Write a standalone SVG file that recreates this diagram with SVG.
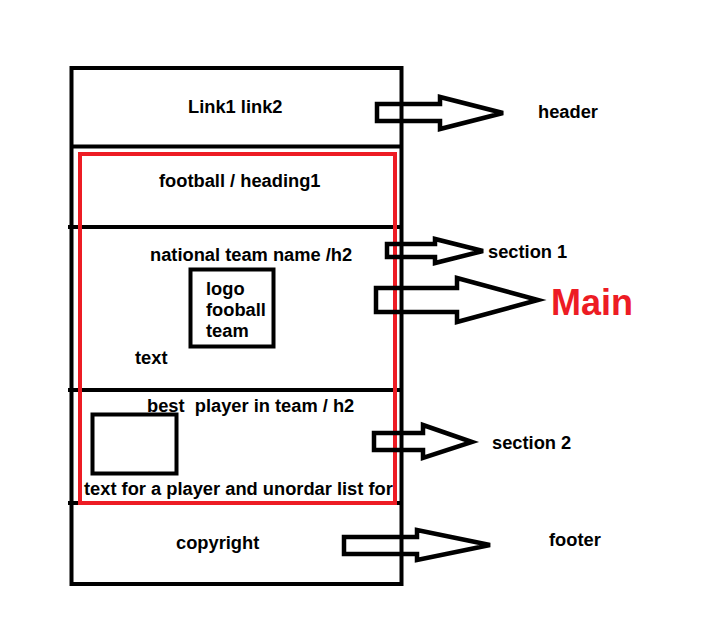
<svg xmlns="http://www.w3.org/2000/svg" width="718" height="624" viewBox="0 0 718 624">
<style>
.ln{stroke:#000;stroke-width:4;fill:none}
.red{stroke:#ED1C24;stroke-width:4;fill:none}
.arr{stroke:#000;stroke-width:4.5;fill:none;stroke-linejoin:miter}
.t{font-family:"Liberation Sans",Arial,sans-serif;font-weight:bold;font-size:18.3px;fill:#000;white-space:pre}
.main{font-family:"Liberation Sans",Arial,sans-serif;font-weight:bold;font-size:36px;fill:#ED1C24}
</style>
<rect width="718" height="624" fill="#fff"/>
<g id="page">
  <rect class="ln" x="71.5" y="68" width="330" height="516"/>
</g>
<g id="header">
  <line class="ln" x1="71" y1="146.5" x2="402" y2="146.5"/>
  <text class="t" x="188" y="113">Link1 link2</text>
</g>
<g id="heading1">
  <line class="ln" x1="68" y1="227" x2="402" y2="227"/>
  <text class="t" x="159" y="187">football / heading1</text>
</g>
<g id="section1">
  <line class="ln" x1="68" y1="390" x2="402" y2="390"/>
  <text class="t" x="150" y="261">national team name /h2</text>
  <text class="t" x="135" y="364">text</text>
</g>
<g id="logo">
  <rect class="ln" x="190.5" y="269.5" width="83" height="77"/>
  <text class="t" x="206" y="295">logo</text>
  <text class="t" x="206" y="316">fooball</text>
  <text class="t" x="206" y="337">team</text>
</g>
<g id="section2">
  <line class="ln" x1="68" y1="503" x2="402" y2="503"/>
  <text class="t" x="147" y="412">best  player in team / h2</text>
  <rect class="ln" x="92.5" y="414.5" width="84" height="59"/>
  <text class="t" x="84" y="495">text for a player and unordar list for</text>
</g>
<g id="main">
  <rect class="red" x="80" y="154" width="315" height="349"/>
</g>
<g id="footer">
  <text class="t" x="176" y="549">copyright</text>
</g>
<g id="connectors">
  <polygon class="arr" points="377,104 440,104 440,97 503,113 440,129 440,121 377,121"/>
  <polygon class="arr" points="387,244 435,244 435,239 483,251 435,263 435,257 387,257"/>
  <polygon class="arr" points="376,288 457,288 457,278 538,300 457,322 457,312 376,312"/>
  <polygon class="arr" points="374,433 423,433 423,425 472,442 423,458 423,450 374,450"/>
  <polygon class="arr" points="344,537 417,537 417,530 490,545 417,560 417,554 344,554"/>
</g>
<g id="labels">
  <text class="t" x="538" y="118">header</text>
  <text class="t" x="488" y="258">section 1</text>
  <text class="main" x="551" y="315">Main</text>
  <text class="t" x="492" y="449">section 2</text>
  <text class="t" x="549" y="546">footer</text>
</g>
</svg>
